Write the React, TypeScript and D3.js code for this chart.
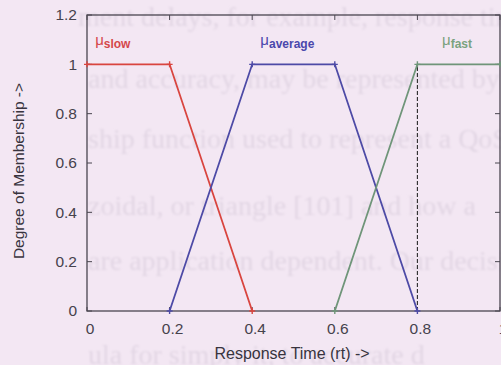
import React from "react";
import * as d3 from "d3";

// Membership functions for response time (rt)
const slowX = [0, 0.2, 0.4];
const slowY = [1, 1, 0];
const averageX = [0.2, 0.4, 0.6, 0.8];
const averageY = [0, 1, 1, 0];
const fastX = [0.6, 0.8, 1];
const fastY = [0, 1, 1];
const cutX = [0.8, 0.8];
const cutY = [0, 1];

const xTicks = [0, 0.2, 0.4, 0.6, 0.8, 1];
const yTicks = [0, 0.2, 0.4, 0.6, 0.8, 1, 1.2];

const seriesNames = ["slow", "average", "fast"];
const labelAt = [0.01, 0.41, 0.85];

// Faint page text printed beneath the figure
const pageLines = [
  "ment delays, for example, response time",
  "and accuracy, may be represented by",
  "ship function used to represent a QoS",
  "zoidal, or triangle [101] and how a",
  "are application dependent. Our decision",
  "ula for simply it, to accurate d",
];

const W = 501;
const H = 365;
const M = { left: 87, right: 500, top: 15, bottom: 311 };

export default function App() {
  const x = d3.scaleLinear().domain([0, 1]).range([M.left, M.right]);
  const y = d3.scaleLinear().domain([0, 1.2]).range([M.bottom, M.top]);
  const line = d3
    .line<[number, number]>()
    .x((d) => x(d[0]))
    .y((d) => y(d[1]));
  const pts = (xs: number[], ys: number[]) =>
    xs.map((v, i) => [v, ys[i]] as [number, number]);

  const series = [
    { name: seriesNames[0], data: pts(slowX, slowY), color: "#d9453f", label: "#d5484a" },
    { name: seriesNames[1], data: pts(averageX, averageY), color: "#4d4aa6", label: "#4a48ac" },
    { name: seriesNames[2], data: pts(fastX, fastY), color: "#6f9579", label: "#7aa27e" },
  ];

  const fmt = (v: number) => String(+v.toFixed(1));
  const pageBase = [26, 88, 148, 215, 270, 364];
  const pageLeft = [78, 88, 88, 88, 88, 88];

  return (
    <svg
      width={W}
      height={H}
      style={{ position: "absolute", left: 0, top: 0, background: "#f3e7f3" }}
      fontFamily="Arial, 'Liberation Sans', sans-serif"
    >
      <defs>
        <filter id="soft" x="-5%" y="-20%" width="110%" height="140%">
          <feGaussianBlur stdDeviation="0.9" />
        </filter>
      </defs>
      <rect x={0} y={0} width={W} height={H} fill="#f3e7f3" />
      {/* background page text */}
      <g
        fontFamily="'Liberation Serif', 'DejaVu Serif', serif"
        fontSize={28}
        fill="#e2d6e4"
        filter="url(#soft)"
      >
        {pageLines.map((t, i) => (
          <text key={i} x={pageLeft[i]} y={pageBase[i]}>
            {t}
          </text>
        ))}
      </g>

      {/* frame */}
      <rect
        x={M.left}
        y={M.top}
        width={M.right - M.left}
        height={M.bottom - M.top}
        fill="none"
        stroke="#4a4650"
        strokeWidth={1.3}
      />

      {/* ticks (inward, mirrored) */}
      <g stroke="#4a4650" strokeWidth={1}>
        {yTicks.map((t) => (
          <g key={"y" + t}>
            <line x1={M.left} x2={M.left + 5} y1={y(t)} y2={y(t)} />
            <line x1={M.right} x2={M.right - 5} y1={y(t)} y2={y(t)} />
          </g>
        ))}
        {xTicks.map((t) => (
          <g key={"x" + t}>
            <line x1={x(t)} x2={x(t)} y1={M.top} y2={M.top + 5} />
            <line x1={x(t)} x2={x(t)} y1={M.bottom} y2={M.bottom - 4} />
          </g>
        ))}
      </g>

      {/* tick labels */}
      <g fontSize={15.5} fill="#46424c">
        {yTicks.map((t) => (
          <text key={"yl" + t} x={77} y={y(t)} dy="0.35em" textAnchor="end">
            {fmt(t)}
          </text>
        ))}
        {xTicks.map((t) => (
          <text key={"xl" + t} x={x(t) + 3} y={334} textAnchor="middle">
            {fmt(t)}
          </text>
        ))}
      </g>

      {/* axis titles */}
      <text x={292} y={359} fontSize={16} fill="#38343e" textAnchor="middle">
        Response Time (rt) -&gt;
      </text>
      <text
        transform={`translate(24, ${171}) rotate(-90)`}
        fontSize={15.5}
        fill="#38343e"
        textAnchor="middle"
      >
        Degree of Membership -&gt;
      </text>

      {/* dashed cut at rt = 0.8 */}
      <path
        d={line(pts(cutX, cutY)) || ""}
        stroke="#2a2a2a"
        strokeWidth={1.1}
        strokeDasharray="4,2"
        fill="none"
      />

      {/* membership curves */}
      {series.map((s) => (
        <g key={s.name}>
          <path d={line(s.data) || ""} stroke={s.color} strokeWidth={1.8} fill="none" />
          {s.data.map((d, i) => (
            <path
              key={i}
              d={`M${x(d[0])},${y(d[1]) - 3}V${y(d[1]) + 3}M${x(d[0]) - 3},${y(d[1])}H${x(d[0]) + 3}`}
              stroke={s.color}
              strokeWidth={1.4}
            />
          ))}
        </g>
      ))}

      {/* series labels */}
      {series.map((s, i) => (
        <text key={"lab" + s.name} x={x(labelAt[i]) + 4} y={45} fill={s.label} fontSize={15}>
          μ
          <tspan fontSize={12} fontWeight="bold" dy={3}>
            {s.name}
          </tspan>
        </text>
      ))}
    </svg>
  );
}
